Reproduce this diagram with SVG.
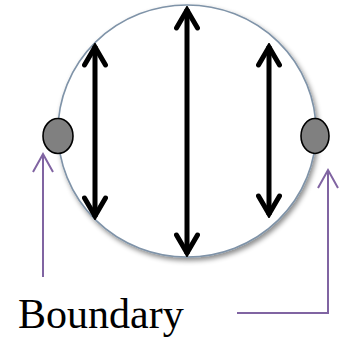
<svg xmlns="http://www.w3.org/2000/svg" width="348" height="342" viewBox="0 0 348 342">
<defs>
<filter id="sh" x="-20%" y="-20%" width="140%" height="140%">
<feDropShadow dx="2" dy="3" stdDeviation="2.5" flood-color="#000" flood-opacity="0.45"/>
</filter>
<marker id="bk" viewBox="0 0 26 26" refX="23" refY="13" markerWidth="26" markerHeight="26" markerUnits="userSpaceOnUse" orient="auto-start-reverse">
<path d="M4,2.5 L22,13 L4,23.5" fill="none" stroke="#000" stroke-width="5" stroke-linecap="round" stroke-linejoin="miter"/>
</marker>
<marker id="pu" viewBox="0 0 24 24" refX="21" refY="12" markerWidth="24" markerHeight="24" markerUnits="userSpaceOnUse" orient="auto">
<path d="M3,2 L21,12 L3,22" fill="none" stroke="#8064A2" stroke-width="2"/>
</marker>
</defs>
<style>
.bnd{fill:#fff;stroke:#7F93A8;stroke-width:1.6}
.dot{fill:#808080;stroke:#000;stroke-width:1.6}
.arr{stroke:#000;stroke-width:5;fill:none}
.pl{stroke:#8064A2;stroke-width:2;fill:none}
.lbl{font-family:"Liberation Serif",serif;font-size:42px;fill:#000}
</style>
<g id="domain">
<ellipse class="bnd" cx="187" cy="131" rx="129" ry="126" filter="url(#sh)"/>
</g>
<g id="connectors">
<line class="arr" x1="95" y1="46" x2="95" y2="217" marker-start="url(#bk)" marker-end="url(#bk)"/>
<line class="arr" x1="187" y1="9" x2="187" y2="254" marker-start="url(#bk)" marker-end="url(#bk)"/>
<line class="arr" x1="269" y1="46" x2="269" y2="215" marker-start="url(#bk)" marker-end="url(#bk)"/>
<path class="pl" d="M43,277 L43,154" marker-end="url(#pu)"/>
<path class="pl" d="M237,313 L328,313 L328,170" marker-end="url(#pu)"/>
</g>
<g id="left-point">
<ellipse class="dot" cx="58" cy="136" rx="15" ry="17.5"/>
</g>
<g id="right-point">
<ellipse class="dot" cx="315" cy="136" rx="14" ry="17.5"/>
</g>
<g id="label">
<text class="lbl" x="18" y="328">Boundary</text>
</g>
</svg>
